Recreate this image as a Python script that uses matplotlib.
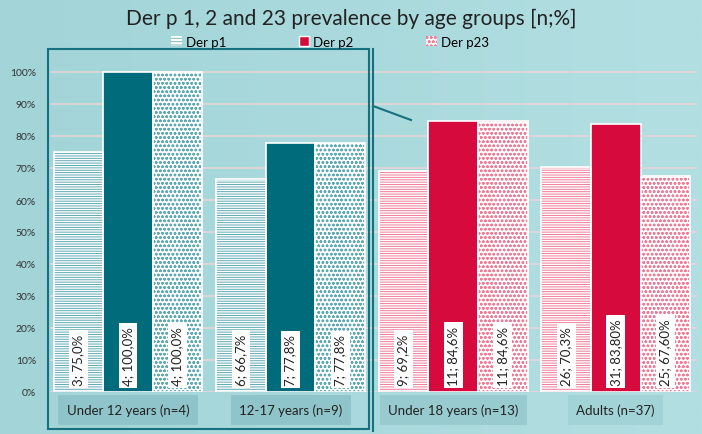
import matplotlib.pyplot as plt
import matplotlib.patches as mpatches
from matplotlib.lines import Line2D
from matplotlib.colors import LinearSegmentedColormap
import numpy as np

plt.rcParams['font.family'] = ['Lato', 'DejaVu Sans']
plt.rcParams['hatch.linewidth'] = 0.7

groups = ['Under 12 years (n=4)', '12-17 years (n=9)', 'Under 18 years (n=13)', 'Adults (n=37)']
p1 = [75.0, 66.7, 69.2, 70.3]
p2 = [100.0, 77.8, 84.6, 83.8]
p23 = [100.0, 77.8, 84.6, 67.6]
p1_labels = ['3; 75,0%', '6; 66,7%', '9; 69,2%', '26; 70,3%']
p2_labels = ['4; 100,0%', '7; 77,8%', '11; 84,6%', '31; 83,80%']
p23_labels = ['4; 100,0%', '7; 77,8%', '11; 84,6%', '25; 67,60%']
group_colors = ['#006b7a', '#006b7a', '#d60a3c', '#d60a3c']
light_colors = ['#5fa9b3', '#5fa9b3', '#f07c98', '#f07c98']
box_colors = ['#8ec4ca', '#8ec4ca', '#97cbd0', '#a2d3d7']
yticks = np.arange(0, 101, 10)


def main():
    fig = plt.figure(figsize=(7.02, 4.35), dpi=100)
    fig.patch.set_facecolor('#a8d8dc')

    # background gradient
    bg = fig.add_axes([0, 0, 1, 1], zorder=-10)
    grad = np.linspace(0, 1, 256).reshape(1, -1)
    grad = np.vstack([grad] * 10)
    cmap = LinearSegmentedColormap.from_list('bg', ['#a2d4d8', '#b2dfe2'])
    bg.imshow(grad, aspect='auto', cmap=cmap, extent=[0, 1, 0, 1])
    bg.axis('off')

    ax = fig.add_axes([50 / 702, 1 - 393 / 435, 647 / 702, (393 - 66.6) / 435])
    ax.set_facecolor('none')
    ax.set_xlim(-0.48, 3.5)
    ax.set_ylim(0, 102)

    w = 0.305
    x = np.arange(len(groups))
    for i in range(len(groups)):
        for j, (vals, labs) in enumerate([(p1, p1_labels), (p2, p2_labels), (p23, p23_labels)]):
            xc = x[i] + (j - 1) * w
            if j == 1:
                ax.bar(xc, vals[i], w, color=group_colors[i], edgecolor='white', linewidth=1.2, zorder=3)
            else:
                hatch = '-------' if j == 0 else 'oooo'
                ax.bar(xc, vals[i], w, color='white', edgecolor=light_colors[i], hatch=hatch,
                       linewidth=0, zorder=3)
                ax.bar(xc, vals[i], w, color='none', edgecolor='white', linewidth=1.2, zorder=4)
            ax.text(xc, 2.2, labs[i], rotation=90, ha='center', va='bottom', fontsize=9.5, color='#222222',
                    zorder=6, bbox=dict(facecolor='white', edgecolor='none', pad=2.5))
        ax.text(x[i], -5.6, groups[i], ha='center', va='center', fontsize=9.5, color='#222222',
                bbox=dict(facecolor=box_colors[i], edgecolor='none', pad=6))

    ax.set_yticks(yticks)
    ax.set_yticklabels([f'{v}%' for v in yticks], fontsize=7.5, color='#333333')
    ax.set_xticks([])
    ax.tick_params(axis='y', length=0, pad=10)
    ax.grid(axis='y', color='#e6d6da', linewidth=1.2, zorder=0)
    for s in ['top', 'right', 'bottom', 'left']:
        ax.spines[s].set_visible(False)

    # frame around the first two groups
    fig.patches.append(mpatches.Rectangle((48 / 702, 1 - 430 / 435), 321 / 702, 380 / 435,
                                          transform=fig.transFigure, fill=False,
                                          edgecolor='#17707e', linewidth=1.5))
    fig.lines.append(Line2D([373 / 702, 373 / 702], [1 - 432 / 435, 1 - 50 / 435],
                            transform=fig.transFigure, color='#17707e', linewidth=1.5))
    fig.lines.append(Line2D([373 / 702, 411 / 702], [1 - 107 / 435, 1 - 121 / 435],
                            transform=fig.transFigure, color='#17707e', linewidth=1.5))

    fig.text(0.5, 1 - 19 / 435, 'Der p 1, 2 and 23 prevalence by age groups [n;%]',
             ha='center', va='center', fontsize=15, color='#222222')

    handles = [
        mpatches.Patch(facecolor='white', edgecolor='#7fb4bc', hatch='-----', linewidth=0),
        mpatches.Patch(facecolor='#d60a3c', edgecolor='white'),
        mpatches.Patch(facecolor='white', edgecolor='#f07c98', hatch='oooo', linewidth=0),
    ]
    fig.legend(handles, ['Der p1', 'Der p2', 'Der p23'], loc='center', ncol=3,
               bbox_to_anchor=(0.47, 1 - 43 / 435), frameon=False, fontsize=9.5,
               handlelength=0.8, handleheight=0.8, handletextpad=0.3, columnspacing=5.5)

    fig.savefig('out.png', dpi=100, facecolor=fig.get_facecolor())


if __name__ == '__main__':
    main()
